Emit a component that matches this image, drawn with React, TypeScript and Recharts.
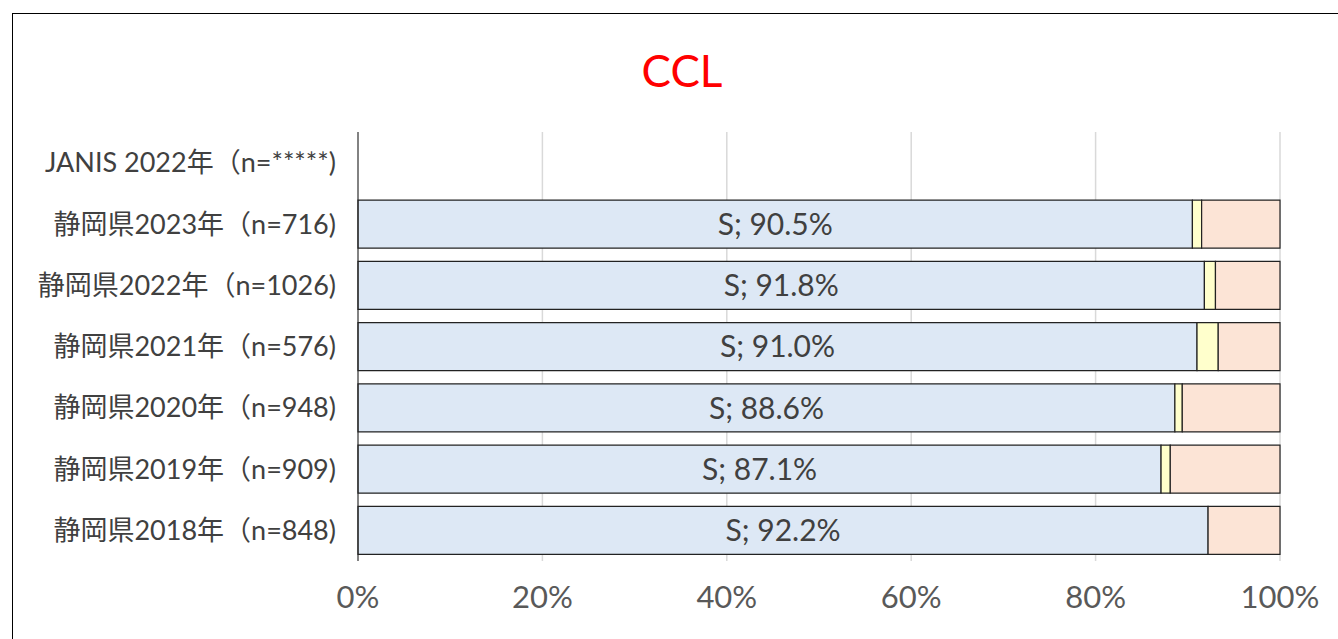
import React from 'react';
import { BarChart, Bar, XAxis, YAxis, CartesianGrid, LabelList } from 'recharts';

const categories = [
  'JANIS 2022年（n=*****)',
  '静岡県2023年（n=716)',
  '静岡県2022年（n=1026)',
  '静岡県2021年（n=576)',
  '静岡県2020年（n=948)',
  '静岡県2019年（n=909)',
  '静岡県2018年（n=848)',
];
const sValues: (number | null)[] = [null, 90.5, 91.8, 91.0, 88.6, 87.1, 92.2];
const iValues: (number | null)[] = [null, 1.0, 1.2, 2.3, 0.8, 1.0, 0.0];
const rValues: (number | null)[] = [null, 8.5, 7.0, 6.7, 10.6, 11.9, 7.8];
const xTicks = [0, 20, 40, 60, 80, 100];

const data = categories.map((name, i) => ({ name, S: sValues[i], I: iValues[i], R: rValues[i] }));

const FONT = 'Lato, "Noto Sans CJK JP", sans-serif';

export default function App() {
  return (
    <div style={{ position: 'fixed', left: 0, top: 0, width: 1338, height: 639, overflow: 'hidden', background: '#fff', fontFamily: FONT }}>
      <div style={{ position: 'absolute', left: 12, top: 13, width: 1400, height: 700, border: '1px solid #000' }} />
      <div style={{ position: 'absolute', left: 582, width: 200, top: 43, textAlign: 'center', color: '#ff0000', fontSize: 44, lineHeight: '54px' }}>CCL</div>
      <div style={{ position: 'absolute', left: 0, top: 0 }}>
        <BarChart
          width={1338}
          height={639}
          data={data}
          layout="vertical"
          margin={{ top: 132, right: 58, bottom: 38, left: 0 }}
          barCategoryGap="11%"
        >
          <CartesianGrid horizontal={false} vertical={true} stroke="#d9d9d9" strokeWidth={1.5} />
          <XAxis
            type="number"
            domain={[0, 100]}
            ticks={xTicks}
            tickFormatter={(v: number) => `${v}%`}
            axisLine={false}
            tickLine={false}
            height={40}
            tickMargin={19}
            tick={{ fontSize: 31, fill: '#595959', fontFamily: FONT }}
          />
          <YAxis
            type="category"
            dataKey="name"
            width={358}
            axisLine={{ stroke: '#222', strokeWidth: 1 }}
            tickLine={false}
            tickMargin={16}
            tick={{ fontSize: 27, fill: '#404040', fontFamily: FONT }}
          />
          <Bar dataKey="S" stackId="a" fill="#dde8f5" stroke="#222" strokeWidth={1.2} isAnimationActive={false}>
            <LabelList
              dataKey="S"
              position="center"
              formatter={(v: any) => (v == null ? '' : `S; ${Number(v).toFixed(1)}%`)}
              style={{ fontSize: 30, fill: '#404040', fontFamily: FONT }}
            />
          </Bar>
          <Bar dataKey="I" stackId="a" fill="#ffffcc" stroke="#222" strokeWidth={1.2} isAnimationActive={false} />
          <Bar dataKey="R" stackId="a" fill="#fce4d6" stroke="#222" strokeWidth={1.2} isAnimationActive={false} />
        </BarChart>
      </div>
    </div>
  );
}
